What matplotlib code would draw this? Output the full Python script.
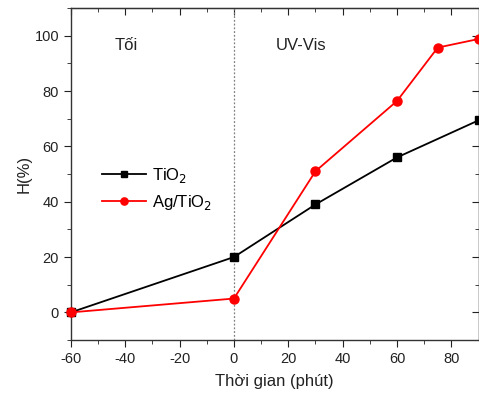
import matplotlib.pyplot as plt
from matplotlib.ticker import MultipleLocator

plt.rcParams['font.family'] = ['Liberation Sans', 'DejaVu Sans']
plt.rcParams['axes.unicode_minus'] = False

# data
time_tio2 = [-60, 0, 30, 60, 90]
h_tio2 = [0, 20, 39, 56, 69.4]
time_ag = [-60, 0, 30, 60, 75, 90]
h_ag = [0, 5, 51, 76.4, 95.7, 98.8]

fig = plt.figure(figsize=(4.79, 4.01), dpi=100)
ax = fig.add_axes([0.148, 0.152, 0.851, 0.828])

ax.plot(time_tio2, h_tio2, color='black', marker='s', markersize=5.5, lw=1.3,
        label='TiO$_2$', clip_on=False, zorder=3)
ax.plot(time_ag, h_ag, color='red', marker='o', markersize=6.5, lw=1.3,
        label='Ag/TiO$_2$', clip_on=False, zorder=3)

# dark / light boundary
ax.axvline(0, color='grey', ls=(0, (1.5, 1.5)), lw=0.9, zorder=1)
ax.text(-44, 95, 'Tối', fontsize=12, color='#222222')
ax.text(15.5, 95, 'UV-Vis', fontsize=12, color='#222222')

ax.set_xlim(-60, 90)
ax.set_ylim(-10, 110)
ax.xaxis.set_major_locator(MultipleLocator(20))
ax.xaxis.set_minor_locator(MultipleLocator(10))
ax.yaxis.set_major_locator(MultipleLocator(20))
ax.yaxis.set_minor_locator(MultipleLocator(10))
ax.tick_params(which='both', direction='out', labelsize=10.5, colors='#222222')
ax.tick_params(which='major', length=5)
ax.tick_params(which='minor', length=3)

# mirrored ticks on top and right, pointing inward
top = ax.secondary_xaxis('top')
top.xaxis.set_major_locator(MultipleLocator(20))
top.xaxis.set_minor_locator(MultipleLocator(10))
top.tick_params(which='both', direction='in', labeltop=False, colors='#222222')
top.tick_params(which='major', length=5)
top.tick_params(which='minor', length=3)
right = ax.secondary_yaxis('right')
right.yaxis.set_major_locator(MultipleLocator(20))
right.yaxis.set_minor_locator(MultipleLocator(10))
right.tick_params(which='both', direction='in', labelright=False, colors='#222222')
right.tick_params(which='major', length=5)
right.tick_params(which='minor', length=3)

for spine in ax.spines.values():
    spine.set_linewidth(1.0)
    spine.set_color('#333333')

ax.set_xlabel('Thời gian (phút)', fontsize=12, color='#222222', labelpad=6)
ax.set_ylabel('H(%)', fontsize=12, color='#222222', labelpad=2)

leg = ax.legend(loc='upper left', bbox_to_anchor=(0.04, 0.57), frameon=False,
                fontsize=12, markerscale=0.8, handlelength=2.6, handletextpad=0.4,
                labelspacing=0.5)

fig.savefig('out.png', dpi=100)
